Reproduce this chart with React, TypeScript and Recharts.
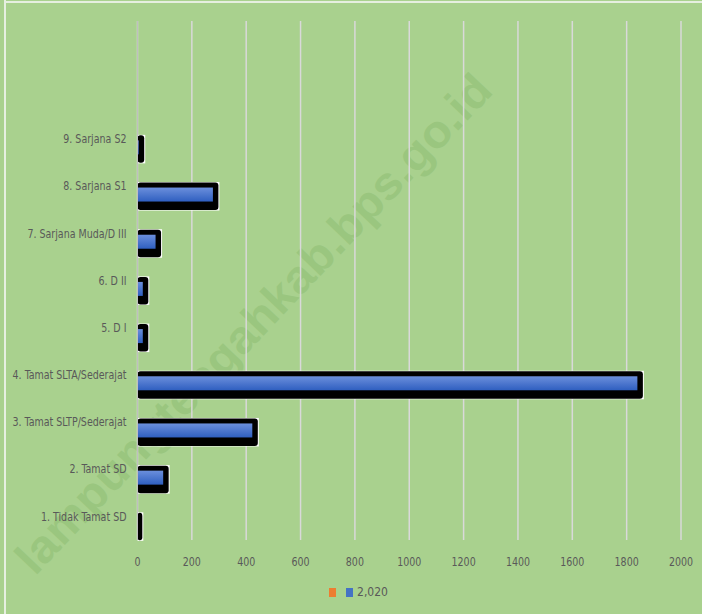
import { Bar, BarChart, CartesianGrid, Legend, XAxis, YAxis } from "recharts";

const categories: string[] = [
  " ",
  "  ",
  "9. Sarjana S2",
  "8. Sarjana S1",
  "7. Sarjana Muda/D III",
  "6. D II",
  "5. D I",
  "4. Tamat SLTA/Sederajat",
  "3. Tamat SLTP/Sederajat",
  "2. Tamat SD",
  "1. Tidak Tamat SD",
];
const emptySeries: (number | null)[] = [null, null, null, null, null, null, null, null, null, null, null];
const series2020: (number | null)[] = [null, null, 10, 283, 72, 25, 25, 1845, 428, 100, 3];
const xTicks: number[] = [0, 200, 400, 600, 800, 1000, 1200, 1400, 1600, 1800, 2000];

const data = categories.map((name, i) => ({
  name,
  empty: emptySeries[i],
  v2020: series2020[i],
}));

const font = "'DejaVu Sans Condensed', 'Liberation Sans Narrow', 'Open Sans', sans-serif";

interface ShapeProps {
  x?: number;
  y?: number;
  width?: number;
  height?: number;
}

function FramedBar({ x = 0, y = 0, width = 0, height = 0 }: ShapeProps) {
  if (height <= 0 || width < 0) return null;
  const innerW = Math.max(width - 1.5, 0);
  return (
    <g>
      <rect x={x} y={y - 0.5} width={width + 5} height={height + 5.5} fill="#ffffff" />
      <rect x={x} y={y} width={width + 4} height={height + 4.5} rx={3} ry={3} fill="#000000" />
      {innerW > 0 && <rect x={x} y={y + 5} width={innerW} height={height - 9} fill="url(#barBlue)" />}
    </g>
  );
}

interface TickProps {
  x?: number;
  y?: number;
  payload?: { value: string | number };
}

// Calibri-like narrow labels: squeeze the condensed font horizontally
function CategoryTick({ x = 0, y = 0, payload }: TickProps) {
  return (
    <text
      transform={`translate(${x - 1},${y + 1}) scale(0.88,1)`}
      textAnchor="end"
      dominantBaseline="middle"
      fill="#595959"
      fontSize={12}
      fontFamily={font}
    >
      {payload ? payload.value : ""}
    </text>
  );
}

function ValueTick({ x = 0, y = 0, payload }: TickProps) {
  return (
    <text
      transform={`translate(${x},${y + 12}) scale(0.88,1)`}
      textAnchor="middle"
      fill="#595959"
      fontSize={12}
      fontFamily={font}
    >
      {payload ? payload.value : ""}
    </text>
  );
}

function LegendContent() {
  return (
    <div style={{ display: "flex", justifyContent: "center", alignItems: "center", height: 24, paddingLeft: 36, fontFamily: font, fontSize: 12, color: "#595959" }}>
      <span style={{ display: "inline-block", width: 7, height: 9, background: "#ed7d31", marginRight: 10 }} />
      <span style={{ display: "inline-block", width: 7, height: 9, background: "#4472c4", marginRight: 4 }} />
      <span>2,020</span>
    </div>
  );
}

export default function App() {
  return (
    <div style={{ position: "absolute", left: 0, top: 0, width: 702, height: 614, background: "#a9d18e", overflow: "hidden" }}>
      <div style={{ position: "absolute", left: 4, top: 0, width: 2, height: 614, background: "#e6efe0" }} />
      <div style={{ position: "absolute", left: 4, top: 1, width: 698, height: 2, background: "#e6efe0" }} />
      <svg width={702} height={614} style={{ position: "absolute", left: 0, top: 0 }}>
        <text
          x={256}
          y={326}
          textAnchor="middle"
          dominantBaseline="middle"
          transform="rotate(-46.5 256 326)"
          fontFamily="'Liberation Sans', Arial, sans-serif"
          fontWeight="bold"
          fontSize={46}
          fill="#9ac67f"
          textLength={668}
          lengthAdjust="spacingAndGlyphs"
        >
          lampungtengahkab.bps.go.id
        </text>
      </svg>
      <div style={{ position: "absolute", left: 0, top: 0 }}>
        <BarChart
          width={702}
          height={614}
          data={data}
          layout="vertical"
          margin={{ top: 21, right: 21, left: 0, bottom: 10 }}
          barCategoryGap={0}
          barGap={-8}
        >
          <defs>
            <linearGradient id="barBlue" x1="0" y1="0" x2="0" y2="1">
              <stop offset="0%" stopColor="#6b8fdc" />
              <stop offset="100%" stopColor="#2f5fc0" />
            </linearGradient>
          </defs>
          <CartesianGrid horizontal={false} stroke="#d9d9d9" strokeWidth={1.5} />
          <XAxis
            type="number"
            domain={[0, 2000]}
            ticks={xTicks}
            axisLine={false}
            tickLine={false}
            tickMargin={8}
            height={40}
            interval={0}
            tick={<ValueTick />}
          />
          <YAxis
            type="category"
            dataKey="name"
            width={137.5}
            interval={0}
            axisLine={{ stroke: "#bfbfbf" }}
            tickLine={false}
            tickMargin={4}
            tick={<CategoryTick />}
          />
          <Legend verticalAlign="bottom" content={<LegendContent />} wrapperStyle={{ height: 24 }} />
          <Bar dataKey="empty" name=" " fill="#ed7d31" barSize={23} isAnimationActive={false} />
          <Bar dataKey="v2020" name="2,020" fill="#4472c4" barSize={23} shape={<FramedBar />} isAnimationActive={false} />
        </BarChart>
      </div>
    </div>
  );
}
